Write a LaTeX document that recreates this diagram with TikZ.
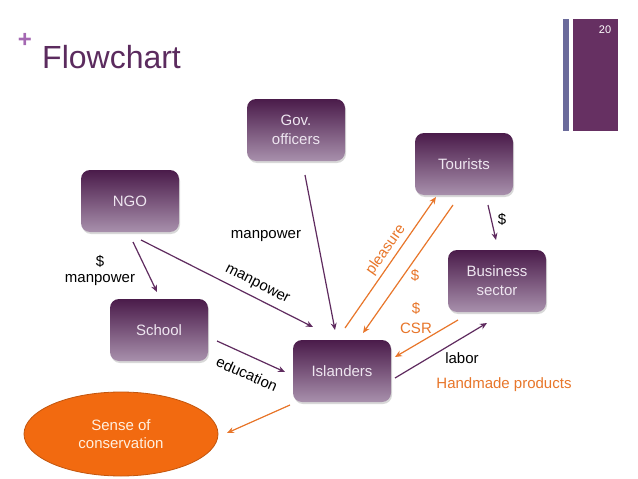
\documentclass[tikz,border=0pt]{standalone}
\usepackage{fontspec}
\setmainfont{Liberation Sans}
\usetikzlibrary{arrows.meta,shapes.geometric,shadows}
\definecolor{boxtop}{HTML}{4A1B4A}
\definecolor{boxbot}{HTML}{A890AC}
\definecolor{boxtext}{HTML}{EEE6F0}
\definecolor{arrowpurple}{HTML}{5F2B5F}
\definecolor{arroworange}{HTML}{E8762A}
\definecolor{senseorange}{HTML}{F26A10}
\definecolor{titlepurple}{HTML}{5B2B5E}
\definecolor{pluspurple}{HTML}{A468B2}
\definecolor{barblue}{HTML}{6B6B9B}
\definecolor{barpurple}{HTML}{663062}
\tikzset{
  box/.style={rounded corners=9pt, minimum width=98pt, minimum height=62pt,
    top color=boxtop, bottom color=boxbot, text=boxtext, align=center,
    font=\fontsize{15}{19}\selectfont,
    drop shadow={opacity=.3, shadow xshift=1pt, shadow yshift=-2pt}},
  parrow/.style={draw=arrowpurple, line width=1.2pt, -{Stealth[length=7pt,width=6pt]}},
  oarrow/.style={draw=arroworange, line width=1.2pt, -{Stealth[length=7pt,width=6pt]}},
  lbl/.style={font=\fontsize{15}{16}\selectfont, inner sep=0pt, align=center},
  olbl/.style={lbl, text=arroworange},
}
\begin{document}
\begin{tikzpicture}[x=1pt,y=-1pt]
  \useasboundingbox[fill=white] (0,0) rectangle (638,479);
  % slide frame
  \fill[barblue] (563,19) rectangle (569,131);
  \fill[barpurple] (573,19) rectangle (618,131);
  \node[text=white, font=\fontsize{11}{13}\selectfont] (pagenum) at (605,30) {20};
  \node[text=pluspurple, font=\bfseries\fontsize{24}{24}\selectfont, inner sep=0pt] (plus) at (25,40) {+};
  \node[text=titlepurple, font=\fontsize{32}{36}\selectfont, anchor=base west, inner sep=0pt] (title) at (42,68) {Flowchart};
  % actors
  \node[box] (gov) at (296,130) {Gov.\\officers};
  \node[box] (tour) at (464,164) {Tourists};
  \node[box] (ngo) at (130,201) {NGO};
  \node[box] (bus) at (497,281) {Business\\sector};
  \node[box] (school) at (159,330) {School};
  \node[box] (isl) at (342,371) {Islanders};
  \node[ellipse, minimum width=194pt, minimum height=84pt, fill=senseorange,
    draw=senseorange!80!black, line width=.8pt, text=orange!12, align=center,
    font=\fontsize{15}{18}\selectfont] (sense) at (121,434) {Sense of\\conservation};
  % flows
  \draw[parrow] ([shift={(3,41)}]ngo.center) -- ([shift={(-2,-38)}]school.center);
  \draw[parrow] ([shift={(11,39)}]ngo.center) -- ([shift={(-29,-44)}]isl.center);
  \draw[parrow] ([shift={(9,45)}]gov.center) -- ([shift={(-7,-41)}]isl.center);
  \draw[parrow] ([shift={(58,11)}]school.center) -- ([shift={(-57,1)}]isl.center);
  \draw[oarrow] ([shift={(-52,34)}]isl.center) -- ([shift={(106,-1)}]sense.center);
  \draw[oarrow] ([shift={(3,-43)}]isl.center) -- ([shift={(-28,33)}]tour.center);
  \draw[oarrow] ([shift={(-11,41)}]tour.center) -- ([shift={(21,-38)}]isl.center);
  \draw[parrow] ([shift={(24,41)}]tour.center) -- ([shift={(-1,-41)}]bus.center);
  \draw[oarrow] ([shift={(-39,39)}]bus.center) -- ([shift={(53,-14)}]isl.center);
  \draw[parrow] ([shift={(53,7)}]isl.center) -- ([shift={(-10,42)}]bus.center);
  % labels
  \node[lbl] (lblngoschool) at (100,271) {\$\\manpower};
  \node[lbl] (lblgov) at (266,236) {manpower};
  \node[lbl, rotate=-27] (lblngoisl) at (257,285) {manpower};
  \node[lbl, rotate=-24] (lbledu) at (247,374) {education};
  \node[olbl, rotate=55] (lblpleasure) at (386,250) {pleasure};
  \node[olbl] (lbltourisl) at (415,275) {\$};
  \node[olbl, font=\fontsize{15}{20}\selectfont] (lblcsr) at (416,318) {\$\\CSR};
  \node[lbl] (lbltourbus) at (502,219) {\$};
  \node[lbl] (lbllabor) at (462,358) {labor};
  \node[olbl] (lblhand) at (504,385) {Handmade products};
\end{tikzpicture}
\end{document}
